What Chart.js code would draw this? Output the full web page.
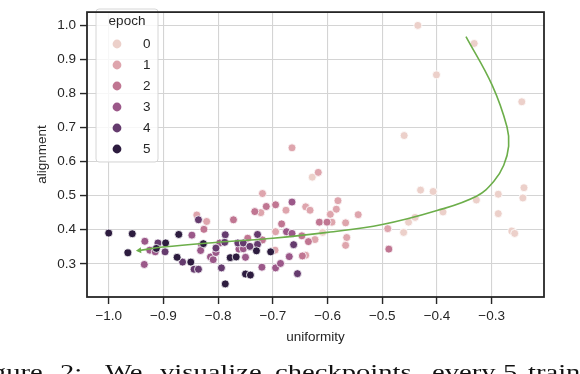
<!DOCTYPE html>
<html>
<head>
<meta charset="utf-8">
<script src="https://cdn.jsdelivr.net/npm/chart.js@4.4.1/dist/chart.umd.min.js"></script>
<style>
  html, body { margin: 0; padding: 0; background: #fff; width: 580px; height: 374px; overflow: hidden; }
  #wrap { position: relative; width: 580px; height: 374px; overflow: hidden; }
  canvas { position: absolute; left: 0; top: 0; }
  .cap { position: absolute; top: 361px; font-family: "Liberation Serif", "Times New Roman", serif; font-size: 22px; line-height: 22px; color: #111; white-space: nowrap; transform: scaleX(1.3); transform-origin: left top; }
</style>
</head>
<body>
<div id="wrap">
<canvas id="c" width="580" height="374"></canvas>
</div>
<script>
// ---- data ----
const epochs = [0, 1, 2, 3, 4, 5];
const epochColors = ['#ecd0ca', '#dea5ad', '#c07692', '#9b5889', '#653b6e', '#2d1c3f'];

const uniE0 = [-0.435,-0.332,-0.401,-0.245,-0.460,-0.628,-0.609,-0.461,-0.452,-0.440,-0.430,-0.407,-0.389,-0.328,-0.288,-0.288,-0.263,-0.258,-0.241,-0.243];
const aliE0 = [0.999,0.946,0.854,0.775,0.676,0.554,0.392,0.392,0.422,0.436,0.516,0.512,0.452,0.487,0.504,0.447,0.396,0.389,0.523,0.493];

const uniE1 = [-0.665,-0.839,-0.821,-0.722,-0.719,-0.696,-0.695,-0.676,-0.640,-0.623,-0.640,-0.632,-0.617,-0.595,-0.581,-0.584,-0.592,-0.567,-0.544,-0.565,-0.567,-0.490];
const aliE1 = [0.640,0.443,0.424,0.450,0.506,0.340,0.394,0.457,0.325,0.371,0.467,0.457,0.568,0.445,0.485,0.460,0.422,0.420,0.444,0.377,0.354,0.403];

const uniE2 = [-0.826,-0.772,-0.746,-0.719,-0.733,-0.712,-0.695,-0.684,-0.647,-0.646,-0.635,-0.615,-0.601,-0.488];
const aliE2 = [0.401,0.429,0.375,0.370,0.453,0.468,0.473,0.417,0.382,0.323,0.365,0.422,0.422,0.343];

const uniE3 = [-0.934,-0.935,-0.925,-0.915,-0.848,-0.830,-0.832,-0.814,-0.809,-0.804,-0.797,-0.762,-0.754,-0.750,-0.720,-0.695,-0.686,-0.675,-0.665,-0.665,-0.670];
const aliE3 = [0.366,0.298,0.340,0.335,0.384,0.354,0.339,0.320,0.312,0.333,0.361,0.343,0.344,0.319,0.290,0.288,0.301,0.394,0.389,0.481,0.321];

const uniE4 = [-0.910,-0.897,-0.865,-0.836,-0.844,-0.836,-0.804,-0.787,-0.788,-0.794,-0.764,-0.754,-0.742,-0.728,-0.728,-0.662,-0.655];
const aliE4 = [0.361,0.335,0.305,0.429,0.284,0.284,0.346,0.385,0.363,0.288,0.361,0.361,0.351,0.357,0.386,0.356,0.271];

const uniE5 = [-1.0,-0.957,-0.965,-0.913,-0.896,-0.872,-0.875,-0.850,-0.827,-0.787,-0.778,-0.767,-0.750,-0.741,-0.730,-0.704];
const aliE5 = [0.390,0.388,0.332,0.345,0.361,0.386,0.319,0.305,0.359,0.241,0.318,0.320,0.270,0.267,0.338,0.335];

// trajectory curve
const curveUni = [-0.347,-0.299,-0.272,-0.269,-0.278,-0.296,-0.327,-0.400,-0.500,-0.600,-0.700,-0.801,-0.901,-0.944];
const curveAli = [0.966,0.823,0.701,0.645,0.589,0.542,0.499,0.456,0.415,0.392,0.375,0.363,0.349,0.339];

const xTicks = [-1.0,-0.9,-0.8,-0.7,-0.6,-0.5,-0.4,-0.3];
const yTicks = [0.3,0.4,0.5,0.6,0.7,0.8,0.9,1.0];
const xLabel = 'uniformity';
const yLabel = 'alignment';
const legendTitle = 'epoch';

const uniByEpoch = [uniE0, uniE1, uniE2, uniE3, uniE4, uniE5];
const aliByEpoch = [aliE0, aliE1, aliE2, aliE3, aliE4, aliE5];

const FONT = "'Liberation Sans', Arial, Helvetica, sans-serif";
const TXT = '#262626';

const scatterSets = epochs.map((e, i) => ({
  type: 'scatter',
  label: String(e),
  data: uniByEpoch[i].map((u, k) => ({ x: u, y: aliByEpoch[i][k] })),
  backgroundColor: epochColors[i],
  borderColor: '#ffffff',
  borderWidth: 0.8,
  pointRadius: 4,
  pointHoverRadius: 4,
  order: 10 - i,
  isEpoch: true
}));

const lastIdx = curveUni.length - 1;
const curveSet = {
  type: 'scatter',
  label: 'trajectory',
  data: curveUni.map((u, k) => ({ x: u, y: curveAli[k] })),
  showLine: true,
  borderColor: '#6cae4a',
  backgroundColor: '#6cae4a',
  borderWidth: 1.6,
  tension: 0.4,
  pointStyle: 'triangle',
  pointRadius: ctx => ctx.dataIndex === lastIdx ? 3.5 : 0,
  pointRotation: -96,
  pointBorderWidth: 0,
  order: 0
};

const fmt = v => (v < 0 ? '\u2212' : '') + Math.abs(v).toFixed(1);

const framePlugin = {
  id: 'frame',
  afterDraw(chart) {
    const { ctx, chartArea: a } = chart;
    ctx.save();
    ctx.strokeStyle = '#262626';
    ctx.lineWidth = 1.8;
    ctx.strokeRect(a.left, a.top, a.right - a.left, a.bottom - a.top);
    ctx.restore();
  }
};

const legendPlugin = {
  id: 'epochLegend',
  afterDatasetsDraw(chart) {
    const { ctx } = chart;
    const sets = chart.data.datasets.filter(d => d.isEpoch);
    const x0 = 96, y0 = 9, w = 62, h = 153, r = 3;
    ctx.save();
    ctx.beginPath();
    ctx.moveTo(x0 + r, y0);
    ctx.arcTo(x0 + w, y0, x0 + w, y0 + h, r);
    ctx.arcTo(x0 + w, y0 + h, x0, y0 + h, r);
    ctx.arcTo(x0, y0 + h, x0, y0, r);
    ctx.arcTo(x0, y0, x0 + w, y0, r);
    ctx.closePath();
    ctx.fillStyle = 'rgba(255,255,255,0.8)';
    ctx.fill();
    ctx.strokeStyle = '#d6d6d6';
    ctx.lineWidth = 1;
    ctx.stroke();
    ctx.fillStyle = TXT;
    ctx.font = '13.5px ' + FONT;
    ctx.textBaseline = 'middle';
    ctx.textAlign = 'center';
    ctx.fillText(legendTitle, x0 + 31, 21);
    sets.forEach((d, i) => {
      const cy = 44 + i * 21;
      ctx.beginPath();
      ctx.arc(117, cy, 4.4, 0, Math.PI * 2);
      ctx.fillStyle = d.backgroundColor;
      ctx.fill();
      ctx.fillStyle = TXT;
      ctx.textAlign = 'left';
      ctx.fillText(d.label, 143, cy);
    });
    ctx.restore();
  }
};

new Chart(document.getElementById('c'), {
  type: 'scatter',
  data: { datasets: [...scatterSets, curveSet] },
  options: {
    responsive: false,
    animation: false,
    devicePixelRatio: 1,
    layout: { padding: { left: 0, top: 1, right: 36, bottom: 29 } },
    plugins: { legend: { display: false }, tooltip: { enabled: false } },
    scales: {
      x: {
        type: 'linear',
        min: -1.0397,
        max: -0.2044,
        afterBuildTicks: s => { s.ticks = xTicks.map(v => ({ value: v })); },
        afterFit: s => { s.height = 48; },
        grid: { color: '#d4d4d4', lineWidth: 1.1, tickColor: '#262626', tickWidth: 1.4, tickLength: 7 },
        border: { display: false },
        ticks: { callback: v => fmt(v), color: TXT, font: { family: FONT, size: 13.5 }, padding: 4.5, maxRotation: 0 },
        title: { display: true, text: xLabel, color: TXT, font: { family: FONT, size: 13.5 }, padding: { top: 0, bottom: 0 } }
      },
      y: {
        type: 'linear',
        min: 0.2026,
        max: 1.038,
        afterBuildTicks: s => { s.ticks = yTicks.map(v => ({ value: v })); },
        afterFit: s => { s.width = 87; },
        grid: { color: '#d4d4d4', lineWidth: 1.1, tickColor: '#262626', tickWidth: 1.4, tickLength: 7 },
        border: { display: false },
        ticks: { callback: v => fmt(v), color: TXT, font: { family: FONT, size: 13.5 }, padding: 4 },
        title: { display: true, text: yLabel, color: TXT, font: { family: FONT, size: 13.5 }, padding: { top: 33.9, bottom: 0 } }
      }
    }
  },
  plugins: [framePlugin, legendPlugin]
});

// caption (cut off at the bottom of the picture)
const capWords = [['Figure', -32], ['2:', 60], ['We', 105], ['visualize', 160], ['checkpoints', 275], ['every', 432], ['5', 503], ['training', 528]];
const wrap = document.getElementById('wrap');
capWords.forEach(([t, left]) => {
  const s = document.createElement('span');
  s.className = 'cap';
  s.style.left = left + 'px';
  s.textContent = t;
  wrap.appendChild(s);
});
</script>
</body>
</html>
